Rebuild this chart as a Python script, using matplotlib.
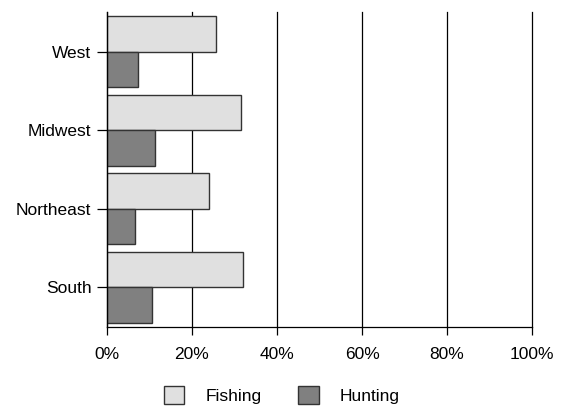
import matplotlib
matplotlib.use("Agg")
import matplotlib.pyplot as plt
import numpy as np
from matplotlib.ticker import PercentFormatter

plt.rcParams['font.family'] = ['Liberation Sans', 'DejaVu Sans']

# --- Data (percent of population) ---
regions = ["West", "Midwest", "Northeast", "South"]
fishing = [25.6, 31.6, 23.9, 32.1]
hunting = [7.4, 11.4, 6.7, 10.7]

y = np.arange(len(regions))
h = 0.45

fig = plt.figure(figsize=(5.63, 4.07), dpi=100)
ax = fig.add_axes([0.190, 0.197, 0.755, 0.773])

ax.barh(y - h / 2, fishing, h, color="#e0e0e0", edgecolor="#333333",
        linewidth=1, label="Fishing")
ax.barh(y + h / 2, hunting, h, color="#808080", edgecolor="#333333",
        linewidth=1, label="Hunting")

ax.set_ylim(3.5, -0.5)
ax.set_xlim(0, 100)
ax.set_yticks(y)
ax.set_yticklabels(regions)
ax.set_xticks(np.arange(0, 101, 20))
ax.xaxis.set_major_formatter(PercentFormatter(decimals=0))

ax.set_axisbelow(True)
ax.xaxis.grid(True, color="#000000", linewidth=0.9)
for gl in ax.get_xgridlines():
    gl.set_clip_on(False)
for s in ["top", "right"]:
    ax.spines[s].set_visible(False)
for s in ["left", "bottom"]:
    ax.spines[s].set_color("#000000")
    ax.spines[s].set_linewidth(0.9)

ax.tick_params(axis="y", length=7.2, width=0.9, pad=4, labelsize=12.5)
ax.tick_params(axis="x", length=5.8, width=0.9, pad=9, labelsize=12.5)

fig.legend(loc="lower center", bbox_to_anchor=(0.5, -0.03), ncol=2,
           frameon=False, fontsize=12.5, handlelength=1.2, handleheight=1.2,
           handletextpad=1.2, columnspacing=2.1)

fig.savefig("out.png", dpi=100)
